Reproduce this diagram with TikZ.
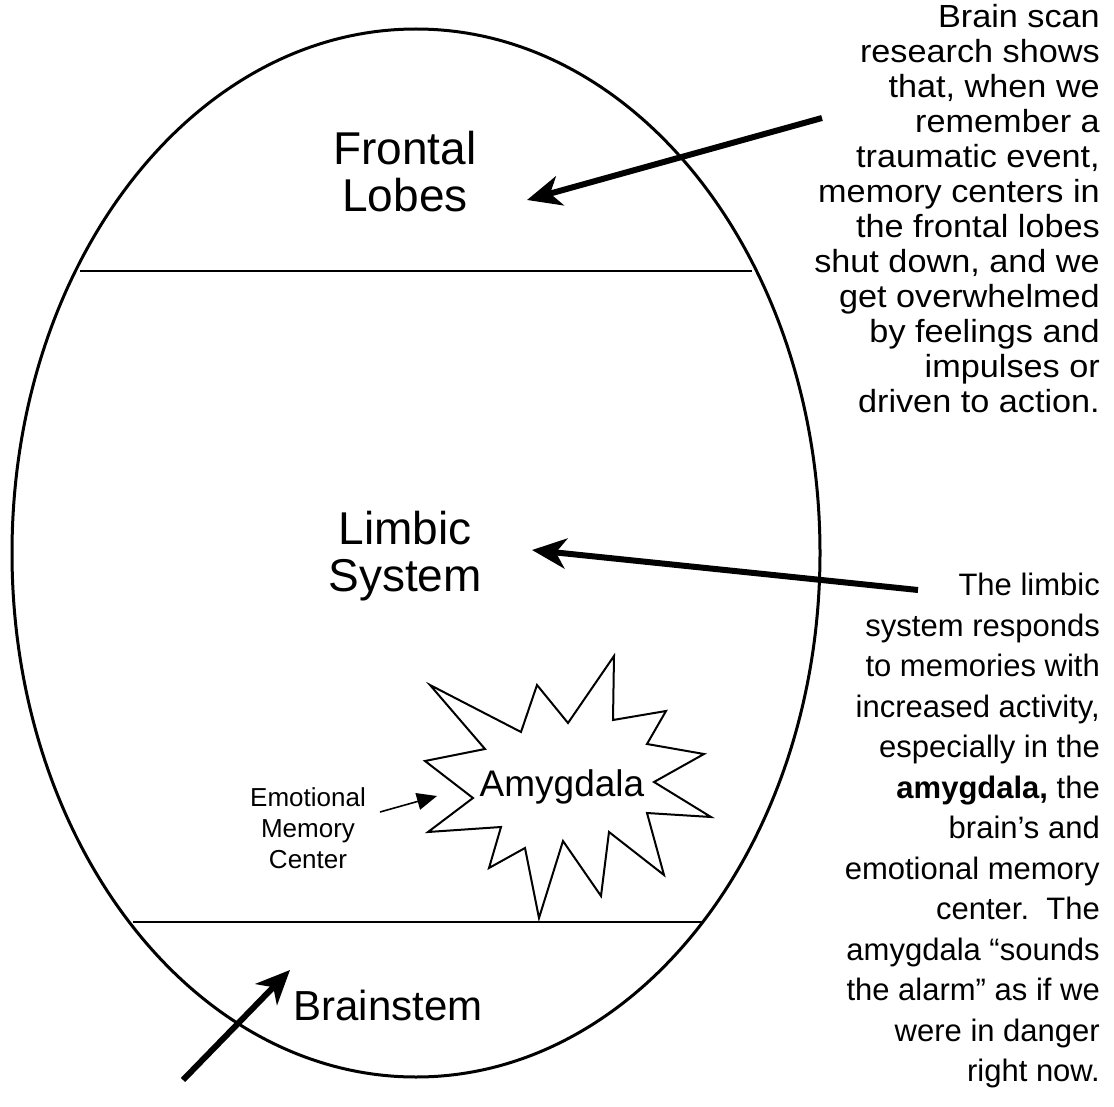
\documentclass[tikz,border=0pt]{standalone}
\usepackage{fontspec}
\setmainfont{Liberation Sans}
\newfontfamily\widefont[FakeStretch=1.07]{Liberation Sans}
\usetikzlibrary{arrows.meta}
\begin{document}
\begin{tikzpicture}[x=1pt,y=-1pt,
  lbl/.style={font=\fontsize{46}{47}\selectfont, align=center, inner sep=0},
  note/.style={align=right, inner sep=0, anchor=north east},
  bigarrow/.style={line width=6, -{Stealth[length=34,width=30,inset=10]}},
  smallarrow/.style={line width=1.6, -{Triangle[length=20,width=17]}},
]
\useasboundingbox (0,0) rectangle (1114,1107);
% egg outline
\draw[line width=3] (416,553) ellipse [x radius=404pt, y radius=524pt];
% separators
\draw[line width=2.5] (80,271) -- (752,271);
\draw[line width=2.5] (133,922) -- (703,922);
% star burst
\draw[line width=2, line join=miter]
  (430,685) -- (521,732) -- (537,685) -- (568,723) -- (614,656) -- (613,720)
  -- (666,711) -- (647,744) -- (704,754) -- (654,782) -- (711,817) -- (647,813)
  -- (664,875) -- (609,832) -- (601,896) -- (563,841) -- (539,918) -- (525,848)
  -- (489,868) -- (501,827) -- (428,832) -- (473,798) -- (425,761) -- (485,749) -- cycle;
% labels
\node[lbl] (frontal) at (405,172) {Frontal\\Lobes};
\node[lbl] (limbic) at (405,556) {Limbic\\System};
\node[font=\fontsize{42}{46}\selectfont, inner sep=0] (brainstem) at (388,1005) {Brainstem};
\node[font=\fontsize{37}{40}\selectfont, inner sep=0] (amyg) at (562,787) {Amygdala};
\node[font=\fontsize{26}{31}\selectfont, align=center, inner sep=0] (emc) at (308,828) {Emotional\\Memory\\Center};
% notes
\node[note, font=\widefont\fontsize{32}{35}\selectfont] (note1) at (1100,4) {Brain scan\\research shows\\that, when we\\remember a\\traumatic event,\\memory centers in\\the frontal lobes\\shut down, and we\\get overwhelmed\\by feelings and\\impulses or\\driven to action.};
\node[note, font=\fontsize{31}{40.5}\selectfont] (note2) at (1100,573) {The limbic\\system responds\\to memories with\\increased activity,\\especially in the\\\textbf{amygdala,} the\\brain’s and\\emotional memory\\center.\ \ The\\amygdala “sounds\\the alarm” as if we\\were in danger\\right now.};
% arrows
\coordinate (a1s) at (822,118);
\coordinate (a1e) at (527,200);
\coordinate (a2s) at (918,590);
\coordinate (a2e) at (532,550);
\coordinate (a3s) at (183,1080);
\coordinate (a3e) at (290,970);
\coordinate (a4s) at (380,812);
\coordinate (a4e) at (437,796);
\draw[bigarrow] (a1s) -- (a1e);
\draw[bigarrow] (a2s) -- (a2e);
\draw[bigarrow] (a3s) -- (a3e);
\draw[smallarrow] (a4s) -- (a4e);
\end{tikzpicture}
\end{document}
